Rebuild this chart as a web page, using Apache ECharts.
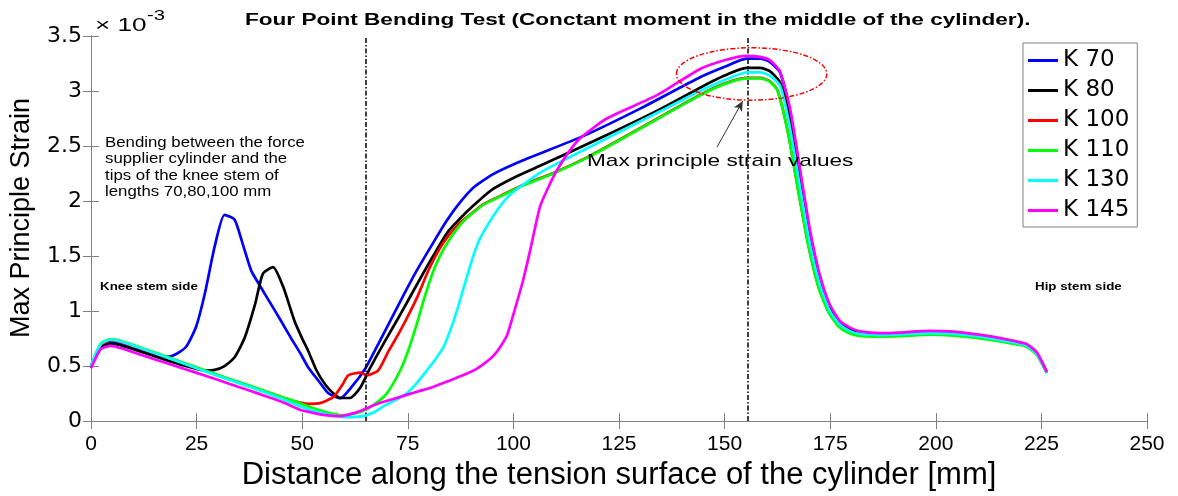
<!DOCTYPE html>
<html>
<head>
<meta charset="utf-8">
<script src="https://cdn.jsdelivr.net/npm/echarts@6/dist/echarts.min.js"></script>
<style>
html, body { margin: 0; padding: 0; background: #fff; }
#chart { width: 1178px; height: 496px; }
</style>
</head>
<body>
<div id="chart"></div>
<script>
var names = ['K 70', 'K 80', 'K 100', 'K 110', 'K 130', 'K 145'];
var colors = ['#0000ff', '#000000', '#ff0000', '#00ff00', '#00ffff', '#ff00ff'];

var k70 = [[0,0.5],[2.3,0.68],[4.7,0.725],[7,0.70],[10,0.665],[13,0.628],[16,0.592],[18.2,0.585],[20.2,0.61],[22.6,0.68],[24.9,0.86],[26.9,1.15],[29.3,1.59],[31.6,1.875],[34,1.83],[36,1.6],[37.9,1.37],[40,1.23],[42.5,1.07],[45,0.91],[47.5,0.745],[49.5,0.62],[51.4,0.49],[54,0.36],[56.2,0.253],[59,0.208],[61.7,0.31],[64.9,0.476],[68,0.70],[73.2,1.086],[77,1.36],[81,1.62],[84.2,1.82],[87,1.97],[90.5,2.12],[95,2.24],[102.3,2.37],[116.5,2.59],[130,2.84],[144.2,3.125],[150,3.22],[155.2,3.295],[158.4,3.295],[160.7,3.265],[163.1,3.17],[165.5,2.80],[167.9,2.24],[170.2,1.71],[172.6,1.30],[174.9,1.045],[177.3,0.90],[179.7,0.84],[182.1,0.808],[186.8,0.795],[191.6,0.80],[198.6,0.815],[203.4,0.81],[208.2,0.79],[213,0.765],[218.4,0.725],[221.5,0.695],[223.9,0.62],[226.3,0.443]];
var k80 = [[0,0.5],[2.3,0.665],[4.7,0.705],[7,0.69],[12,0.628],[17,0.565],[22,0.505],[26.9,0.46],[29.3,0.465],[31.6,0.5],[34,0.58],[36.4,0.76],[38.8,1.056],[40.7,1.34],[43.1,1.40],[45.5,1.22],[48.2,0.907],[50,0.75],[51.4,0.64],[53.4,0.46],[55.5,0.33],[57.4,0.25],[59,0.21],[61.3,0.21],[63.7,0.30],[66,0.476],[69.5,0.72],[73.2,0.967],[77,1.23],[81,1.50],[84.5,1.72],[88.9,1.90],[92,2.01],[95.2,2.11],[100,2.21],[106.3,2.32],[122.1,2.60],[135,2.84],[144.2,3.03],[150,3.14],[155.2,3.21],[158.4,3.21],[160.7,3.18],[163.1,3.08],[165.5,2.74],[167.9,2.20],[170.2,1.68],[172.6,1.28],[174.9,1.03],[177.3,0.89],[179.7,0.83],[182.1,0.80],[186.8,0.79],[191.6,0.795],[198.6,0.81],[203.4,0.805],[208.2,0.785],[213,0.76],[218.4,0.72],[221.5,0.69],[223.9,0.615],[226.3,0.44]];
var k100 = [[0,0.5],[2.3,0.69],[4.7,0.735],[7,0.72],[12,0.655],[18,0.578],[24.5,0.49],[30,0.415],[35,0.35],[40,0.285],[45,0.22],[48.2,0.18],[51.4,0.157],[54.2,0.163],[57.4,0.22],[59.5,0.33],[60.9,0.416],[63.7,0.44],[65.3,0.416],[68,0.46],[70.5,0.64],[73.2,0.82],[77.1,1.116],[80,1.38],[83.4,1.62],[87,1.79],[90.5,1.90],[93,1.975],[96.8,2.045],[101.6,2.135],[110,2.265],[117.3,2.395],[125,2.555],[139.4,2.865],[147.3,3.025],[152,3.095],[155.2,3.12],[158.4,3.12],[160.7,3.09],[162.5,3.01],[165,2.625],[167.4,2.105],[169.8,1.605],[172.2,1.225],[174.6,0.995],[177,0.865],[179.4,0.805],[181.8,0.78],[186.6,0.773],[191.4,0.777],[198.6,0.79],[203.4,0.785],[208.2,0.768],[213,0.743],[218.4,0.707],[221.5,0.681],[223.9,0.607],[226.3,0.44]];
var k110 = [[0,0.5],[2.3,0.705],[4.7,0.745],[7,0.73],[12,0.665],[18,0.585],[24.5,0.495],[30,0.42],[35,0.355],[40,0.29],[45,0.222],[49.5,0.163],[52,0.125],[55,0.09],[57.5,0.065],[59.7,0.053],[62,0.065],[64.5,0.095],[67,0.15],[70,0.25],[73.2,0.46],[75,0.63],[77.1,0.88],[79,1.13],[81,1.36],[82.6,1.50],[84.2,1.61],[86.5,1.74],[88.5,1.83],[90.5,1.895],[93,1.97],[96.8,2.04],[101.6,2.13],[110,2.26],[117.3,2.39],[125,2.55],[139.4,2.86],[147.3,3.02],[152,3.09],[155.2,3.115],[158.4,3.115],[160.7,3.085],[162.5,3.005],[165,2.62],[167.4,2.10],[169.8,1.60],[172.2,1.22],[174.6,0.99],[177,0.86],[179.4,0.80],[181.8,0.775],[186.6,0.768],[191.4,0.772],[198.6,0.785],[203.4,0.78],[208.2,0.763],[213,0.738],[218.4,0.702],[221.5,0.676],[223.9,0.602],[226.3,0.437]];
var k130 = [[0,0.5],[2.3,0.70],[4.7,0.74],[7,0.725],[12,0.66],[18,0.578],[24.5,0.487],[30,0.412],[35,0.345],[40,0.278],[45,0.205],[49.5,0.134],[52,0.1],[55,0.07],[58,0.045],[60.5,0.036],[62.5,0.038],[64.5,0.045],[67,0.08],[69.2,0.134],[72,0.19],[74.7,0.25],[77,0.34],[79.5,0.46],[81.5,0.56],[83.4,0.67],[85,0.82],[86.6,1.0],[88.9,1.3],[90.5,1.5],[92.1,1.66],[94.5,1.82],[96.8,1.95],[99,2.05],[101.6,2.13],[106,2.25],[110.3,2.34],[122.1,2.57],[135,2.82],[144.2,3.0],[150,3.1],[155.2,3.17],[158.4,3.17],[160.7,3.14],[163.1,3.05],[165.3,2.70],[167.7,2.16],[170,1.65],[172.4,1.26],[174.8,1.01],[177.2,0.88],[179.6,0.82],[182,0.792],[186.8,0.782],[191.6,0.787],[198.6,0.80],[203.4,0.795],[208.2,0.778],[213,0.752],[218.4,0.714],[221.5,0.686],[223.9,0.61],[226.3,0.44]];
var k145 = [[0,0.48],[2.3,0.654],[4.7,0.684],[7,0.665],[12,0.6],[18,0.525],[24.5,0.445],[30,0.375],[35,0.31],[40,0.245],[45,0.178],[49.5,0.104],[52,0.08],[55,0.056],[59,0.045],[62,0.07],[64.5,0.104],[68,0.16],[73.2,0.22],[77,0.265],[81,0.31],[85,0.37],[88.9,0.43],[91.5,0.48],[93.7,0.54],[95.2,0.59],[96.8,0.67],[98.5,0.78],[100,0.97],[102.3,1.28],[103.9,1.54],[106.3,1.95],[108.7,2.16],[110.3,2.28],[113,2.44],[115.8,2.57],[122.1,2.75],[133.9,2.96],[144.2,3.20],[150,3.28],[155.2,3.32],[158.4,3.31],[160.7,3.28],[163.1,3.18],[165.5,2.84],[167.9,2.28],[170.2,1.74],[172.6,1.32],[174.9,1.06],[177.3,0.91],[179.7,0.85],[182.1,0.815],[186.8,0.80],[191.6,0.805],[198.6,0.82],[203.4,0.815],[208.2,0.795],[213,0.77],[218.4,0.73],[221.5,0.70],[223.9,0.625],[226.3,0.446]];

// annotations, in data units
var sectionLines = [65, 155.5];
var peakZone = [156.4, 3.155, 17.8, 0.238]; // centre x, centre y, half width, half height
var arrowFrom = [148.2, 2.49];
var arrowTo = [154.3, 2.91];

var allData = [k70, k80, k100, k110, k130, k145];
var gray = '#808080';
var dashDot = [5, 2, 1.5, 2];

var chart = echarts.init(document.getElementById('chart'));

var series = allData.map(function (d, i) {
    return {
        name: names[i],
        type: 'line',
        data: d,
        symbol: 'none',
        smooth: 0.2,
        z: 2 + i,
        lineStyle: {width: 2.7, color: colors[i]},
        itemStyle: {color: colors[i]}
    };
});

// dash-dot section lines and the arrow sit on top of the curves
series[5].markLine = {
    silent: true,
    symbol: ['none', 'none'],
    label: {show: false},
    lineStyle: {color: '#000', width: 1.5, type: dashDot},
    data: [
        {xAxis: sectionLines[0]},
        {xAxis: sectionLines[1]},
        [
            {coord: arrowFrom, symbol: 'none', lineStyle: {color: '#333', width: 1, type: 'solid'}},
            {coord: arrowTo, symbol: 'arrow', symbolSize: [7, 10]}
        ]
    ]
};

var option = {
    animation: false,
    textStyle: {fontFamily: '"Liberation Sans", Arial, sans-serif'},
    grid: {left: 91, right: 31, top: 36, bottom: 68},
    legend: {
        orient: 'vertical',
        left: 1023,
        top: 43,
        padding: [6, 8, 5, 5],
        itemWidth: 30,
        itemHeight: 20,
        itemGap: 7,
        icon: 'path://M0,0H30V3H0Z',
        backgroundColor: '#fff',
        borderColor: gray,
        borderWidth: 1,
        textStyle: {fontFamily: '"DejaVu Sans", sans-serif', fontSize: 23, color: '#000', lineHeight: 20},
        data: names
    },
    xAxis: [{
        type: 'value',
        min: 0, max: 250, interval: 25,
        name: 'Distance along the tension surface of the cylinder [mm]',
        nameLocation: 'middle',
        nameGap: 35,
        nameTextStyle: {fontSize: 31, color: '#000'},
        axisLine: {lineStyle: {color: gray}},
        axisTick: {inside: true, length: 8, lineStyle: {color: gray}},
        axisLabel: {fontSize: 21, color: '#000', margin: 13},
        splitLine: {show: false}
    }, {
        type: 'value',
        position: 'top',
        min: 0, max: 250, interval: 25,
        axisLine: {show: true, lineStyle: {color: gray}},
        axisTick: {inside: true, length: 8, lineStyle: {color: gray}},
        axisLabel: {show: false},
        splitLine: {show: false}
    }],
    yAxis: [{
        type: 'value',
        min: 0, max: 3.5, interval: 0.5,
        axisLine: {show: true, lineStyle: {color: gray}},
        axisTick: {show: true, inside: true, length: 8, lineStyle: {color: gray}},
        axisLabel: {fontFamily: '"DejaVu Sans", sans-serif', fontSize: 22, color: '#000', margin: 9},
        splitLine: {show: false}
    }, {
        type: 'value',
        position: 'right',
        min: 0, max: 3.5, interval: 0.5,
        axisLine: {show: true, lineStyle: {color: gray}},
        axisTick: {show: true, inside: true, length: 8, lineStyle: {color: gray}},
        axisLabel: {show: false},
        splitLine: {show: false}
    }],
    series: series
};

chart.setOption(option);

function txt(id, x, y, text, font, sx, extra) {
    var st = {text: text, font: font, fill: '#000', textAlign: 'left', textVerticalAlign: 'middle', align: 'left', verticalAlign: 'middle'};
    for (var k in extra) st[k] = extra[k];
    return {type: 'text', id: id, x: x, y: y, scaleX: sx, z: 100, silent: true, style: st};
}

var c = chart.convertToPixel({xAxisIndex: 0, yAxisIndex: 0}, [peakZone[0], peakZone[1]]);
var e = chart.convertToPixel({xAxisIndex: 0, yAxisIndex: 0}, [peakZone[0] + peakZone[2], peakZone[1] + peakZone[3]]);

chart.setOption({
    graphic: [
        txt('title', 245, 21, 'Four Point Bending Test (Conctant moment in the middle of the cylinder).', 'bold 16px "Liberation Sans", Arial', 1.41),
        txt('exp', 95, 26, '\u00d7 10', '18px "Liberation Sans", Arial', 1.45),
        txt('exp2', 147, 16, '-3', '14px "Liberation Sans", Arial', 1.45),
        txt('note', 105, 167.5, 'Bending between the force\nsupplier cylinder and the\ntips of the knee stem of\nlengths 70,80,100 mm', '14px "Liberation Sans", Arial', 1.2, {lineHeight: 16.5}),
        txt('knee', 100, 287, 'Knee stem side', 'bold 10.5px "Liberation Sans", Arial', 1.27),
        txt('hip', 1035, 287, 'Hip stem side', 'bold 10.5px "Liberation Sans", Arial', 1.27),
        txt('maxv', 587, 161, 'Max principle strain values', '17px "Liberation Sans", Arial', 1.33),
        {
            type: 'text', id: 'yname', x: 22, y: 218, rotation: Math.PI / 2, z: 100, silent: true,
            style: {text: 'Max Principle Strain', font: '27px "Liberation Sans", Arial', fill: '#000',
                textAlign: 'center', textVerticalAlign: 'middle', align: 'center', verticalAlign: 'middle'}
        },
        {
            type: 'ellipse', id: 'zone', z: 90, silent: true,
            shape: {cx: c[0], cy: c[1], rx: e[0] - c[0], ry: c[1] - e[1]},
            style: {fill: 'none', stroke: '#ff0000', lineWidth: 1.5, lineDash: dashDot}
        }
    ]
});
</script>
</body>
</html>
